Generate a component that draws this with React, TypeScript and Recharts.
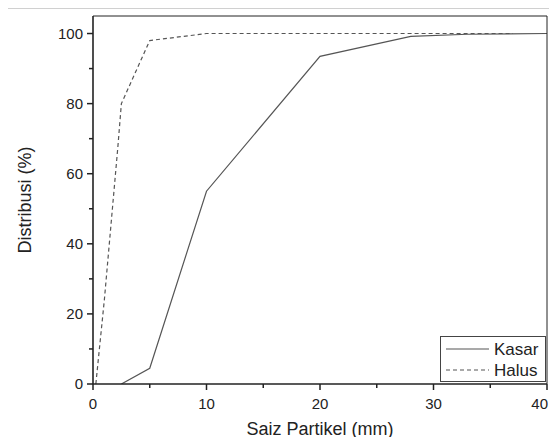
import React from 'react';
import { LineChart, Line, XAxis, YAxis } from 'recharts';

const kasarX = [2.5, 5, 10, 20, 28, 33, 40];
const kasarY = [0, 4.5, 55, 93.5, 99.2, 99.8, 100];
const halusX = [0.25, 1, 2.2, 2.5, 5, 10, 37];
const halusY = [0, 24, 68, 80, 98, 100, 100];
const xTicks = [0, 5, 10, 15, 20, 25, 30, 35, 40];
const yTicks = [0, 10, 20, 30, 40, 50, 60, 70, 80, 90, 100];
const xLabelTicks = [0, 10, 20, 30, 40];
const yLabelTicks = [0, 20, 40, 60, 80, 100];
const seriesNames = ['Kasar', 'Halus'];

const kasarData = kasarX.map((x, i) => ({ x, y: kasarY[i] }));
const halusData = halusX.map((x, i) => ({ x, y: halusY[i] }));

const FONT = '"Liberation Sans", Arial, sans-serif';
const AXIS = '#222';
const LINE = '#555';

const BottomTick = (props: any) => {
  const { x, y, payload } = props;
  const major = xLabelTicks.includes(payload.value);
  const isLast = payload.value === xTicks[xTicks.length - 1];
  return (
    <g>
      <line x1={x} x2={x} y1={y} y2={y + (major ? 6 : 4)} stroke={AXIS} strokeWidth={1.5} />
      {major && (
        <text
          x={isLast ? x + 1 : x}
          y={y + 25}
          textAnchor={isLast ? 'end' : 'middle'}
          fontSize={15}
          fill="#222"
          fontFamily={FONT}
        >
          {payload.value}
        </text>
      )}
    </g>
  );
};

const TopTick = (props: any) => {
  const { x, y, payload } = props;
  const major = xLabelTicks.includes(payload.value);
  return <line x1={x} x2={x} y1={y} y2={y + (major ? 4 : 3)} stroke={AXIS} strokeWidth={1} />;
};

const LeftTick = (props: any) => {
  const { x, y, payload } = props;
  const major = yLabelTicks.includes(payload.value);
  return (
    <g>
      <line x1={x} x2={x - (major ? 6 : 4)} y1={y} y2={y} stroke={AXIS} strokeWidth={1.5} />
      {major && (
        <text x={x - 10} y={y + 5} textAnchor="end" fontSize={15} fill="#222" fontFamily={FONT}>
          {payload.value}
        </text>
      )}
    </g>
  );
};

const RightTick = (props: any) => {
  const { x, y, payload } = props;
  const major = yLabelTicks.includes(payload.value);
  return <line x1={x} x2={x - (major ? 4 : 3)} y1={y} y2={y} stroke={AXIS} strokeWidth={1} />;
};

const LegendBox = () => (
  <div
    style={{
      position: 'absolute',
      left: 432,
      top: 328,
      width: 106,
      height: 46,
      border: '1px solid #444',
      background: '#fff',
      boxSizing: 'border-box',
    }}
  >
    <svg width={104} height={44} style={{ display: 'block' }}>
      <line x1={5} x2={48} y1={12} y2={12} stroke={LINE} strokeWidth={1.2} />
      <text x={53} y={18} fontSize={17} fill="#222" fontFamily={FONT}>{seriesNames[0]}</text>
      <line x1={5} x2={48} y1={33} y2={33} stroke={LINE} strokeWidth={1.2} strokeDasharray="4 3" />
      <text x={53} y={39} fontSize={17} fill="#222" fontFamily={FONT}>{seriesNames[1]}</text>
    </svg>
  </div>
);

export default function App() {
  return (
    <div style={{ position: 'relative', width: 549, height: 429 }}>
      <style>{`.recharts-surface{overflow:visible}`}</style>
      <LineChart
        width={549}
        height={437}
        margin={{ top: 7, right: 9, bottom: 0, left: 0 }}
        style={{ fontFamily: FONT }}
      >
        <XAxis
          xAxisId="b"
          type="number"
          dataKey="x"
          domain={[0, 40]}
          ticks={xTicks}
          interval={0}
          allowDataOverflow
          height={61}
          tickSize={0}
          tickMargin={0}
          tickLine={false}
          tick={<BottomTick />}
          axisLine={{ stroke: AXIS, strokeWidth: 1.6 }}
          label={{ value: 'Saiz Partikel (mm)', position: 'insideBottom', offset: 10, fontSize: 18, fill: '#222', fontFamily: FONT }}
        />
        <XAxis
          xAxisId="t"
          orientation="top"
          type="number"
          dataKey="x"
          domain={[0, 40]}
          ticks={xTicks}
          interval={0}
          height={1}
          tickSize={0}
          tickMargin={0}
          tickLine={false}
          tick={<TopTick />}
          axisLine={{ stroke: AXIS, strokeWidth: 1 }}
        />
        <YAxis
          yAxisId="l"
          type="number"
          domain={[0, 105]}
          ticks={yTicks}
          interval={0}
          allowDataOverflow
          width={85}
          tickSize={0}
          tickMargin={0}
          tickLine={false}
          tick={<LeftTick />}
          axisLine={{ stroke: AXIS, strokeWidth: 1.6 }}
          label={{ value: 'Distribusi (%)', angle: -90, position: 'insideLeft', offset: 17, fontSize: 18, fill: '#222', fontFamily: FONT, style: { textAnchor: 'middle' } }}
        />
        <YAxis
          yAxisId="r"
          orientation="right"
          type="number"
          domain={[0, 105]}
          ticks={yTicks}
          interval={0}
          width={1}
          tickSize={0}
          tickMargin={0}
          tickLine={false}
          tick={<RightTick />}
          axisLine={{ stroke: AXIS, strokeWidth: 1 }}
        />
        <Line
          xAxisId="b"
          yAxisId="l"
          data={kasarData}
          dataKey="y"
          name={seriesNames[0]}
          type="linear"
          stroke={LINE}
          strokeWidth={1.2}
          dot={false}
          isAnimationActive={false}
        />
        <Line
          xAxisId="b"
          yAxisId="l"
          data={halusData}
          dataKey="y"
          name={seriesNames[1]}
          type="linear"
          stroke={LINE}
          strokeWidth={1.2}
          strokeDasharray="4 3"
          dot={false}
          isAnimationActive={false}
        />
      </LineChart>
      <LegendBox />
      <div style={{ position: 'absolute', left: 0, top: 0, width: 549, height: 1, background: '#d0d0d0' }} />
    </div>
  );
}
